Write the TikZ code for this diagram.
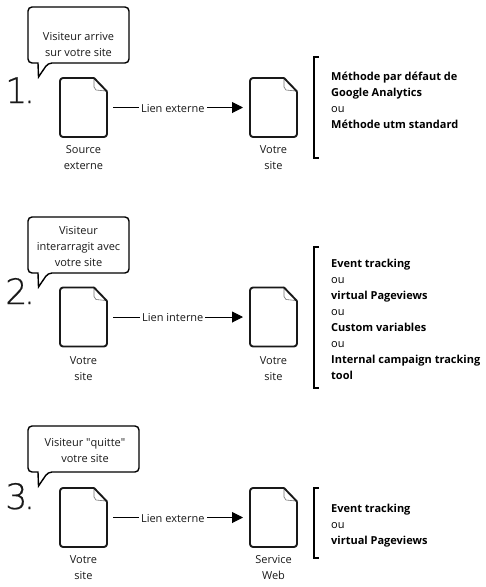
\documentclass[tikz,border=0pt]{standalone}
\usepackage{fontspec}
\setmainfont{Open Sans}
\newfontfamily\quotefont{Open Sans}
\newfontfamily\numfont[FakeBold=0.6]{DejaVu Sans ExtraLight}
\usetikzlibrary{arrows.meta}
\tikzset{
 x=1pt,y=-1pt,
 docbox/.style={minimum width=47pt,minimum height=59pt,inner sep=0pt,outer sep=0pt},
 docline/.style={line width=1.9pt,draw=black!90,rounded corners=3pt,line join=round},
 foldline/.style={line width=0.6pt,draw=black!55},
 bubbleline/.style={line width=1.4pt,draw=black,rounded corners=4pt,line join=miter},
 txt/.style={font=\fontsize{11}{16}\selectfont,align=center,inner sep=0pt,text=black!90},
 captxt/.style={txt,anchor=north},
 sidetxt/.style={txt,align=left,anchor=north west,text=black},
 numtxt/.style={font=\fontsize{35}{35}\numfont,inner sep=0pt,anchor=base west,text=black!90},
 linkline/.style={line width=1pt,-{Triangle[length=11pt,width=11pt]},shorten <=6pt,shorten >=7pt},
 lbl/.style={txt,fill=white,inner xsep=2pt,inner ysep=1pt,pos=.46,yshift=-1pt},
 brack/.style={line width=1.6pt,draw=black},
}
\newcommand\docnode[3]{%
 \node[docbox] (#1) at (#2,#3) {};
 \begin{scope}[shift={(#1.north west)}]
  \draw[foldline] (34,1) -- (34,9) -- (36,12) -- (46,13);
  \draw[docline] (34,0) -- (0,0) -- (0,59) -- (47,59) -- (47,13.5);
  \draw[line width=1.9pt,draw=black!90,line cap=round] (34,0) -- (47,13.5);
 \end{scope}}
\newcommand\bubble[5]{% name, x1, y1, x2, y2
 \draw[bubbleline] (#2,#3) -- (#4,#3) -- (#4,#5) -- (48,#5)
   [sharp corners] -- (38.5,#5+14) -- (38,#5) [rounded corners=4pt] -- (#2,#5) -- cycle;
 \coordinate (#1) at ({(#2+#4)/2},{(#3+#5)/2});}
\newcommand\numlabel[1]{#1\kern-3.5pt.}
\begin{document}
\begin{tikzpicture}
\useasboundingbox (0,0) rectangle (486,587);
% row 1
\bubble{b1}{28}{7}{129}{63}
\node[txt] (t1) at (78.5,44.5) {Visiteur arrive\\sur votre site};
\node[numtxt] (n1) at (5,103) {\numlabel{1}};
\docnode{a1}{83.5}{107.5}
\docnode{c1}{273.5}{107.5}
\draw[linkline] (a1) -- node[lbl] (l1) {Lien externe} (c1);
\node[captxt] (ca1) at (a1.south) [yshift=-8pt] {Source\\externe};
\node[captxt] (cc1) at (c1.south) [yshift=-8pt] {Votre\\site};
\draw[brack] (319,57) -- (314,57) -- (314,158) -- (319,158);
\node[sidetxt] (s1) at (331,72.2) {\textbf{Méthode par défaut de}\\\textbf{Google Analytics}\\ou\\\textbf{Méthode utm standard}};
% row 2
\bubble{b2}{28}{217}{129}{273}
\node[txt] (t2) at (78.5,247) {Visiteur\\interarragit avec\\votre site};
\node[numtxt] (n2) at (5,304) {\numlabel{2}};
\docnode{a2}{83.5}{317}
\docnode{c2}{273.5}{317}
\draw[linkline] (a2) -- node[lbl] (l2) {Lien interne} (c2);
\node[captxt] (ca2) at (a2.south) [yshift=-10pt] {Votre\\site};
\node[captxt] (cc2) at (c2.south) [yshift=-10pt] {Votre\\site};
\draw[brack] (319,247) -- (314,247) -- (314,388) -- (319,388);
\node[sidetxt] (s2) at (331,259) {\textbf{Event tracking}\\ou\\\textbf{virtual Pageviews}\\ou\\\textbf{Custom variables}\\ou\\\textbf{Internal campaign tracking}\\\textbf{tool}};
% row 3
\bubble{b3}{28}{426}{139}{472}
\node[txt] (t3) at (85,451) {Visiteur {\quotefont"}quitte{\quotefont"}\\votre site};
\node[numtxt] (n3) at (5,509) {\numlabel{3}};
\docnode{a3}{83.5}{517.5}
\docnode{c3}{273.5}{517.5}
\draw[linkline] (a3) -- node[lbl] (l3) {Lien externe} (c3);
\node[captxt] (ca3) at (a3.south) [yshift=-8pt] {Votre\\site};
\node[captxt] (cc3) at (c3.south) [yshift=-8pt] {Service\\Web};
\draw[brack] (319,488) -- (314,488) -- (314,558) -- (319,558);
\node[sidetxt] (s3) at (331,504) {\textbf{Event tracking}\\ou\\\textbf{virtual Pageviews}};
\end{tikzpicture}
\end{document}
